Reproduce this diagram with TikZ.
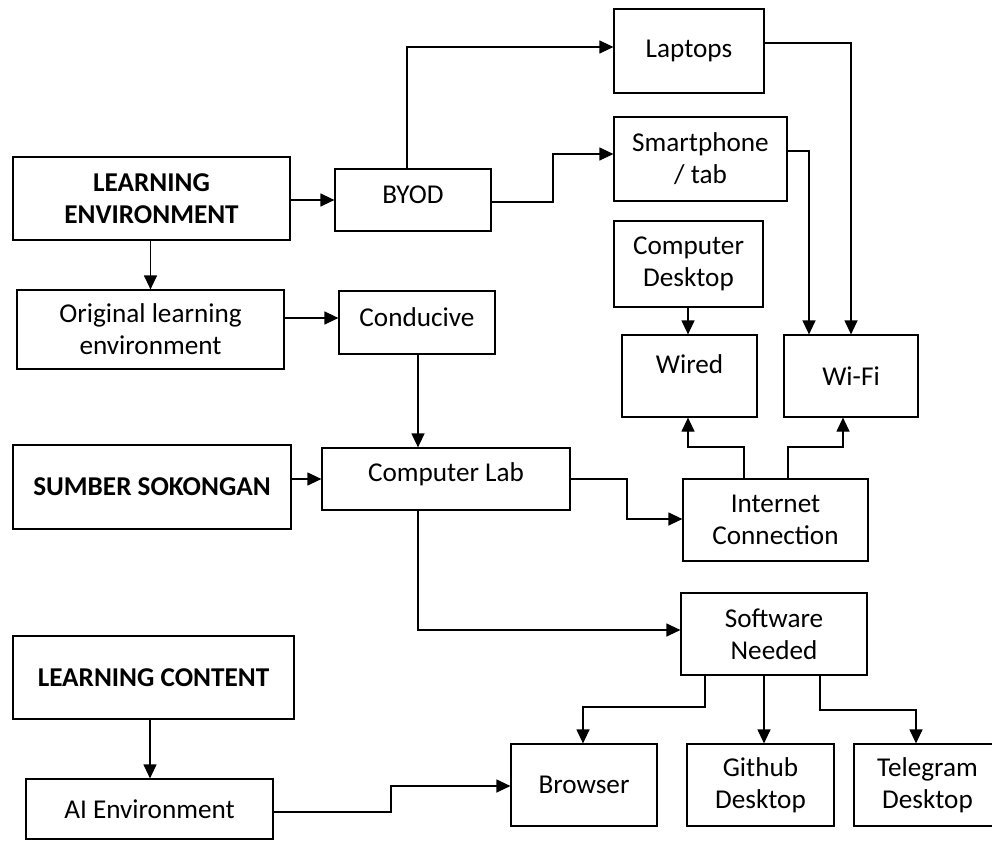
\documentclass[tikz,border=0pt]{standalone}
\usepackage{fontspec}
\setmainfont{Carlito}
\usetikzlibrary{arrows.meta}
\begin{document}
\begin{tikzpicture}[x=1pt,y=-1pt,
  box/.style={draw, line width=1.2pt, align=center, inner sep=0pt, font=\fontsize{27.2}{32}\selectfont},
  conn/.style={line width=1.2pt, -{Triangle[length=14pt,width=13pt]}},
]
\useasboundingbox (0,0) rectangle (992,840);
\clip (0,0) rectangle (992,840);
% left column
\node[box, minimum width=277pt, minimum height=83pt] (le) at (151.5,198.5) {\textbf{LEARNING}\\\textbf{ENVIRONMENT}};
\node[box, minimum width=267pt, minimum height=79pt] (orig) at (150.5,329.5) {Original learning\\environment};
\node[box, minimum width=278pt, minimum height=84pt] (sumber) at (152,487) {\textbf{SUMBER SOKONGAN}};
\node[box, minimum width=281pt, minimum height=83pt] (lc) at (153.5,677.5) {\textbf{LEARNING CONTENT}};
\node[box, minimum width=247pt, minimum height=60pt] (ai) at (149.5,809) {AI Environment};
% middle column
\node[box, minimum width=156pt, minimum height=62pt, text depth=10pt] (byod) at (413,200) {BYOD};
\node[box, minimum width=156pt, minimum height=63pt, text depth=10pt] (cond) at (417,322.5) {Conducive};
\node[box, minimum width=248pt, minimum height=62pt, text depth=14pt] (clab) at (446,479) {Computer Lab};
% right column
\node[box, minimum width=150pt, minimum height=84pt] (lap) at (689,51) {Laptops};
\node[box, minimum width=173pt, minimum height=84pt] (smart) at (700.5,159) {Smartphone\\/ tab};
\node[box, minimum width=149pt, minimum height=86pt] (cdesk) at (688.5,264) {Computer\\Desktop};
\node[box, minimum width=135pt, minimum height=82pt, text depth=24pt] (wired) at (689.5,376) {Wired};
\node[box, minimum width=134pt, minimum height=82pt] (wifi) at (851,376) {Wi-Fi};
\node[box, minimum width=185pt, minimum height=82pt] (inet) at (775.5,520) {Internet\\Connection};
\node[box, minimum width=186pt, minimum height=82pt] (soft) at (774,634) {Software\\Needed};
\node[box, minimum width=146pt, minimum height=82pt] (browser) at (584,785) {Browser};
\node[box, minimum width=147pt, minimum height=82pt] (github) at (760.5,785) {Github\\Desktop};
\node[box, minimum width=147pt, minimum height=82pt] (telegram) at (927.5,785) {Telegram\\Desktop};
% connectors
\draw[conn] (le.east |- byod.west) -- (byod.west);
\draw[conn] (orig.north |- le.south) -- (orig.north);
\draw[conn] (orig.east |- 0,318) -- (cond.west |- 0,318);
\draw[conn] (407,0 |- byod.north) |- (lap.west |- 0,47);
\draw[conn] (byod.east |- 0,202) -| (553,154) -- (smart.west |- 0,154);
\draw[conn] (lap.east |- 0,43) -| (wifi.north);
\draw[conn] (smart.east |- 0,151) -| (809,0 |- wifi.north);
\draw[conn] (688,0 |- cdesk.south) -- (688,0 |- wired.north);
\draw[conn] (418,0 |- cond.south) -- (418,0 |- clab.north);
\draw[conn] (sumber.east |- clab.west) -- (clab.west);
\draw[conn] (clab.east) -| (627,519) -- (inet.west |- 0,519);
\draw[conn] (744,0 |- inet.north) |- (688,447) -- (688,0 |- wired.south);
\draw[conn] (788,0 |- inet.north) |- (843,447) -- (843,0 |- wifi.south);
\draw[conn] (418,0 |- clab.south) |- (soft.west |- 0,630);
\draw[conn] (705,0 |- soft.south) |- (583,707) -- (583,0 |- browser.north);
\draw[conn] (764,0 |- soft.south) -- (764,0 |- github.north);
\draw[conn] (820,0 |- soft.south) |- (916,710) -- (916,0 |- telegram.north);
\draw[conn] (150,0 |- lc.south) -- (150,0 |- ai.north);
\draw[conn] (ai.east |- 0,812) -| (391,786) -- (browser.west |- 0,786);
\end{tikzpicture}
\end{document}
